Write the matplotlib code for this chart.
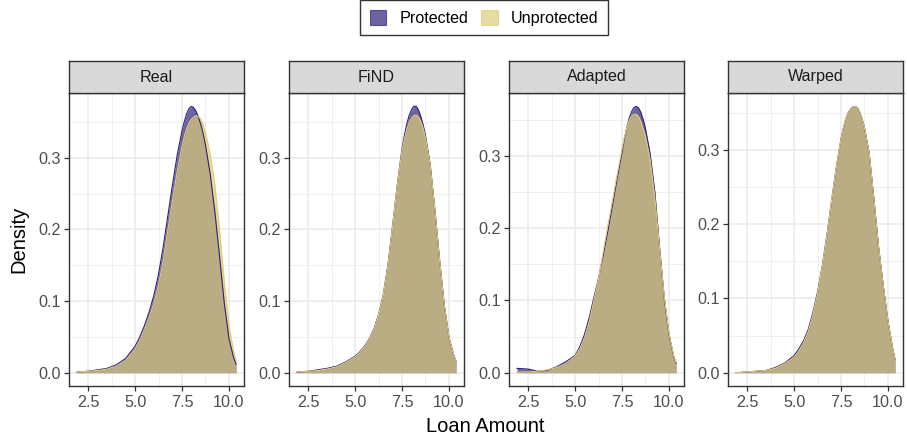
import matplotlib
matplotlib.use("Agg")
import matplotlib.pyplot as plt
from matplotlib.patches import Patch
from matplotlib.ticker import MultipleLocator

plt.rcParams['font.family'] = ['Liberation Sans', 'DejaVu Sans']

panels = ['Real', 'FiND', 'Adapted', 'Warped']
groups = ['Protected', 'Unprotected']
colors = ['#2E217A', '#DECD77']

# loan amount grid (log scale values), finer near the peaks
loan = [1.9, 2.5, 3.0, 3.5, 4.0, 4.5, 5.0, 5.25, 5.5, 5.75, 6.0, 6.25, 6.5, 6.75,
        7.0, 7.25, 7.5, 7.625, 7.75, 7.875, 8.0, 8.125, 8.25, 8.375, 8.5, 8.625, 8.75,
        9.0, 9.25, 9.5, 9.75, 10.0, 10.25, 10.38]

real_prot = [0.001, 0.002, 0.004, 0.006, 0.011, 0.020, 0.037, 0.050, 0.066, 0.085, 0.108,
             0.138, 0.176, 0.220, 0.264, 0.305, 0.338, 0.351, 0.362, 0.369, 0.372, 0.370,
             0.365, 0.357, 0.347, 0.334, 0.318, 0.278, 0.225, 0.163, 0.098, 0.048, 0.021,
             0.012]
real_unprot = [0.001, 0.002, 0.003, 0.005, 0.009, 0.017, 0.033, 0.045, 0.060, 0.077, 0.097,
               0.123, 0.157, 0.200, 0.242, 0.282, 0.316, 0.330, 0.341, 0.349, 0.354, 0.357,
               0.359, 0.358, 0.354, 0.347, 0.336, 0.305, 0.262, 0.200, 0.128, 0.066, 0.030,
               0.017]

find_prot = [0.001, 0.002, 0.004, 0.006, 0.009, 0.015, 0.023, 0.029, 0.037, 0.047, 0.061,
             0.081, 0.109, 0.151, 0.206, 0.263, 0.313, 0.331, 0.347, 0.359, 0.367, 0.372,
             0.372, 0.367, 0.358, 0.346, 0.331, 0.291, 0.228, 0.158, 0.095, 0.050, 0.025,
             0.016]
find_unprot = [0.001, 0.002, 0.003, 0.005, 0.008, 0.014, 0.022, 0.028, 0.036, 0.046, 0.060,
               0.080, 0.108, 0.150, 0.205, 0.262, 0.310, 0.326, 0.339, 0.349, 0.355, 0.359,
               0.360, 0.357, 0.351, 0.342, 0.328, 0.290, 0.228, 0.158, 0.095, 0.050, 0.025,
               0.016]

adapt_prot = [0.006, 0.005, 0.002, 0.003, 0.008, 0.015, 0.024, 0.036, 0.053, 0.076, 0.104,
              0.131, 0.163, 0.197, 0.233, 0.270, 0.305, 0.323, 0.339, 0.352, 0.361, 0.367,
              0.369, 0.367, 0.361, 0.351, 0.338, 0.303, 0.250, 0.174, 0.104, 0.053, 0.023,
              0.013]
adapt_unprot = [0.001, 0.001, 0.002, 0.004, 0.007, 0.012, 0.023, 0.033, 0.048, 0.070, 0.100,
                0.130, 0.168, 0.205, 0.240, 0.276, 0.310, 0.326, 0.339, 0.349, 0.355, 0.358,
                0.358, 0.355, 0.348, 0.338, 0.328, 0.295, 0.243, 0.172, 0.106, 0.055, 0.024,
                0.014]

warp_prot = [0.000, 0.001, 0.002, 0.003, 0.007, 0.013, 0.023, 0.032, 0.043, 0.058, 0.081,
             0.109, 0.144, 0.186, 0.232, 0.277, 0.315, 0.330, 0.342, 0.350, 0.355, 0.358,
             0.359, 0.357, 0.351, 0.342, 0.330, 0.296, 0.235, 0.170, 0.118, 0.070, 0.033,
             0.018]
warp_unprot = [0.000, 0.001, 0.002, 0.003, 0.006, 0.012, 0.021, 0.029, 0.040, 0.055, 0.078,
               0.107, 0.143, 0.185, 0.232, 0.277, 0.315, 0.330, 0.342, 0.350, 0.355, 0.358,
               0.359, 0.357, 0.351, 0.342, 0.330, 0.296, 0.235, 0.170, 0.118, 0.070, 0.033,
               0.018]

series = {
    'Real': [real_prot, real_unprot],
    'FiND': [find_prot, find_unprot],
    'Adapted': [adapt_prot, adapt_unprot],
    'Warped': [warp_prot, warp_unprot],
}

W, H = 907, 442
fig = plt.figure(figsize=(W / 100, H / 100), dpi=100)

lefts = [69, 289, 509, 728]
pw, ph = 175, 293
pbottom = 56
strip_h = 32

xmin, xmax = min(loan), max(loan)
xpad = 0.05 * (xmax - xmin)

for i, name in enumerate(panels):
    ax = fig.add_axes([lefts[i] / W, pbottom / H, pw / W, ph / H])
    ax.set_axisbelow(True)
    ax.xaxis.set_major_locator(MultipleLocator(2.5))
    ax.xaxis.set_minor_locator(MultipleLocator(1.25))
    ax.yaxis.set_major_locator(MultipleLocator(0.1))
    ax.yaxis.set_minor_locator(MultipleLocator(0.05))
    ax.grid(which='major', color='#EBEBEB', lw=1.2)
    ax.grid(which='minor', color='#EBEBEB', lw=0.6)

    ytop = 0
    for vals, col in zip(series[name], colors):
        ax.fill_between(loan, vals, color=col, alpha=0.7, lw=0)
        ax.plot(loan, vals, color=col, lw=0.8)
        ytop = max(ytop, max(vals))

    ax.set_xlim(xmin - xpad, xmax + xpad)
    ax.set_ylim(-0.05 * ytop, 1.05 * ytop)
    ax.xaxis.set_major_formatter(plt.FuncFormatter(lambda v, p: '%.1f' % v))
    ax.yaxis.set_major_formatter(plt.FuncFormatter(lambda v, p: '%.1f' % v))
    ax.tick_params(which='major', length=3.7, width=0.9, color='#333333',
                   labelsize=11.6, labelcolor='#4D4D4D', pad=2.5)
    ax.tick_params(which='minor', length=0)
    for sp in ax.spines.values():
        sp.set_color('#333333')
        sp.set_linewidth(1.0)

    st = fig.add_axes([lefts[i] / W, (pbottom + ph) / H, pw / W, strip_h / H])
    st.set_facecolor('#D9D9D9')
    st.set_xticks([])
    st.set_yticks([])
    for sp in st.spines.values():
        sp.set_color('#333333')
        sp.set_linewidth(1.0)
    st.text(0.5, 0.5, name, ha='center', va='center', fontsize=11.6,
            color='#1A1A1A', transform=st.transAxes)

fig.text(19 / W, (H - 239.5) / H, 'Density', rotation=90, ha='center', va='center',
         fontsize=14.5)
fig.text(485 / W, (H - 427) / H, 'Loan Amount', ha='center', va='center', fontsize=14.5)

handles = [Patch(facecolor=c, edgecolor=c, alpha=0.7, lw=0.8) for c in colors]
leg = fig.legend(handles, groups, loc='upper center', bbox_to_anchor=(484 / W, 1.0),
                 ncol=2, fontsize=11.6, frameon=True, fancybox=False, borderaxespad=0,
                 borderpad=0.6, handlelength=1.05, handleheight=1.05,
                 handletextpad=0.8, columnspacing=0.8)
leg.get_frame().set_edgecolor('black')
leg.get_frame().set_linewidth(1.0)

fig.savefig('out.png', dpi=100)
